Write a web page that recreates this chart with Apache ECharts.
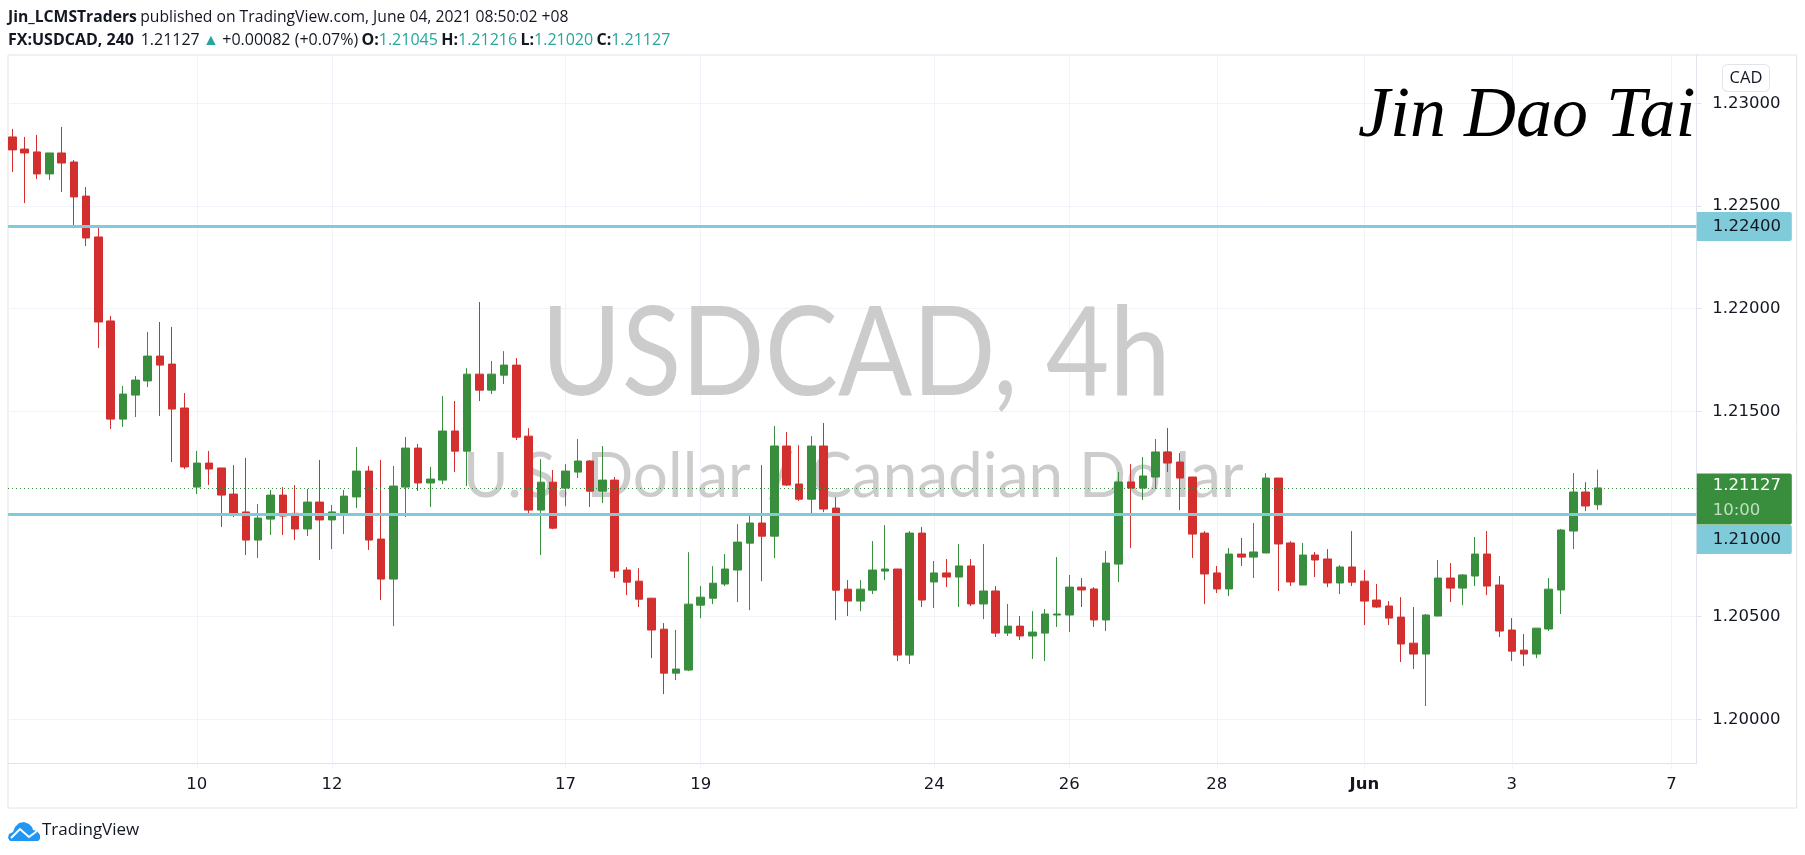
<!DOCTYPE html>
<html>
<head>
<meta charset="utf-8">
<style>html,body{margin:0;padding:0;background:#fff}#c{width:1805px;height:855px}</style>
<script src="https://cdn.jsdelivr.net/npm/echarts@6/dist/echarts.min.js"></script>
</head>
<body>
<div id="c"></div>
<script>
const opens = [1.22836,1.22777,1.22763,1.22656,1.22758,1.22714,1.22548,1.22349,1.21940,1.21462,
1.21579,1.21648,1.21769,1.21730,1.21516,1.21131,1.21248,1.21224,1.21097,1.21010,
1.20873,1.20975,1.21092,1.21003,1.20927,1.21058,1.20971,1.20995,1.21083,1.21209,
1.20878,1.20683,1.21131,1.21321,1.21151,1.21165,1.21404,1.21306,1.21681,1.21603,
1.21676,1.21725,1.21379,1.21019,1.21155,1.21126,1.21204,1.21258,1.21111,1.21165,
1.20727,1.20673,1.20590,1.20439,1.20225,1.20240,1.20556,1.20590,1.20659,1.20727,
1.20858,1.20956,1.20892,1.21331,1.21146,1.21072,1.21331,1.21029,1.20634,1.20576,
1.20629,1.20722,1.20732,1.20313,1.20907,1.20669,1.20713,1.20693,1.20747,1.20562,
1.20625,1.20420,1.20454,1.20406,1.20420,1.20508,1.20508,1.20644,1.20635,1.20484,
1.20756,1.21156,1.21126,1.21180,1.21302,1.21253,1.21180,1.20907,1.20713,1.20635,
1.20805,1.20790,1.20810,1.21175,1.20859,1.20654,1.20800,1.20781,1.20664,1.20742,
1.20673,1.20581,1.20552,1.20498,1.20371,1.20318,1.20503,1.20688,1.20639,1.20698,
1.20805,1.20654,1.20435,1.20337,1.20318,1.20440,1.20630,1.20917,1.21107,1.21045];
const closes = [1.22773,1.22758,1.22656,1.22758,1.22709,1.22544,1.22344,1.21935,1.21462,1.21584,
1.21652,1.21769,1.21725,1.21511,1.21229,1.21248,1.21219,1.21092,1.20998,1.20873,
1.20980,1.21092,1.20990,1.20927,1.21058,1.20971,1.21010,1.21087,1.21209,1.20873,
1.20683,1.21136,1.21321,1.21151,1.21170,1.21404,1.21306,1.21681,1.21603,1.21681,
1.21725,1.21374,1.21019,1.21155,1.20931,1.21209,1.21258,1.21111,1.21165,1.20722,
1.20668,1.20585,1.20435,1.20225,1.20245,1.20561,1.20595,1.20663,1.20732,1.20863,
1.20956,1.20892,1.21331,1.21141,1.21072,1.21331,1.21024,1.20629,1.20576,1.20634,
1.20727,1.20732,1.20313,1.20907,1.20581,1.20713,1.20693,1.20747,1.20562,1.20625,
1.20420,1.20454,1.20406,1.20425,1.20513,1.20513,1.20644,1.20630,1.20484,1.20761,
1.21156,1.21126,1.21185,1.21302,1.21248,1.21175,1.20902,1.20708,1.20635,1.20805,
1.20790,1.20815,1.21175,1.20854,1.20669,1.20800,1.20776,1.20664,1.20742,1.20668,
1.20576,1.20547,1.20493,1.20367,1.20318,1.20508,1.20688,1.20639,1.20703,1.20805,
1.20649,1.20430,1.20332,1.20318,1.20444,1.20634,1.20922,1.21107,1.21039,1.21127];
const lows = [1.22665,1.22514,1.22631,1.22626,1.22568,1.22402,1.22305,1.21808,1.21414,1.21424,
1.21472,1.21618,1.21477,1.21253,1.21219,1.21097,1.21141,1.20937,1.20985,1.20800,
1.20786,1.20898,1.20898,1.20873,1.20893,1.20776,1.20829,1.20902,1.21029,1.20825,
1.20581,1.20454,1.20985,1.21112,1.21034,1.21146,1.21204,1.21136,1.21550,1.21584,
1.21633,1.21360,1.21004,1.20800,1.20926,1.21038,1.21175,1.21034,1.21053,1.20688,
1.20605,1.20547,1.20298,1.20123,1.20191,1.20235,1.20493,1.20561,1.20649,1.20571,
1.20532,1.20673,1.20785,1.21136,1.21063,1.21003,1.21009,1.20483,1.20503,1.20527,
1.20610,1.20678,1.20284,1.20269,1.20547,1.20542,1.20644,1.20547,1.20552,1.20488,
1.20401,1.20406,1.20386,1.20294,1.20284,1.20450,1.20425,1.20547,1.20450,1.20430,
1.20669,1.20834,1.21068,1.21122,1.21204,1.21019,1.20786,1.20562,1.20615,1.20600,
1.20747,1.20688,1.20810,1.20625,1.20649,1.20654,1.20693,1.20644,1.20610,1.20649,
1.20459,1.20542,1.20459,1.20279,1.20245,1.20065,1.20503,1.20571,1.20556,1.20649,
1.20605,1.20401,1.20284,1.20259,1.20298,1.20430,1.20513,1.20829,1.21014,1.21020];
const highs = [1.22875,1.22836,1.22846,1.22758,1.22885,1.22724,1.22592,1.22393,1.21964,1.21623,
1.21672,1.21886,1.21935,1.21911,1.21589,1.21307,1.21307,1.21224,1.21238,1.21273,
1.21049,1.21117,1.21131,1.21141,1.21122,1.21263,1.21044,1.21117,1.21326,1.21234,
1.21263,1.21234,1.21375,1.21341,1.21229,1.21574,1.21550,1.21710,1.22032,1.21745,
1.21793,1.21759,1.21418,1.21267,1.21214,1.21243,1.21365,1.21262,1.21331,1.21180,
1.20741,1.20736,1.20590,1.20469,1.20435,1.20814,1.20649,1.20746,1.20805,1.20951,
1.20990,1.21238,1.21428,1.21399,1.21335,1.21379,1.21443,1.21082,1.20678,1.20678,
1.20868,1.20946,1.20732,1.20917,1.20937,1.20771,1.20781,1.20854,1.20781,1.20854,
1.20649,1.20562,1.20503,1.20527,1.20537,1.20790,1.20703,1.20688,1.20644,1.20820,
1.21204,1.21243,1.21277,1.21365,1.21419,1.21297,1.21180,1.20917,1.20747,1.20834,
1.20883,1.20956,1.21199,1.21175,1.20868,1.20859,1.20815,1.20829,1.20751,1.20917,
1.20727,1.20659,1.20576,1.20595,1.20547,1.20513,1.20776,1.20761,1.20707,1.20888,
1.20917,1.20698,1.20493,1.20415,1.20444,1.20688,1.20927,1.21199,1.21155,1.21216];
const tickIndex = [15,26,45,56,75,86,98,110,122,135];
const tickLabels = ['10','12','17','19','24','26','28','Jun','3','7'];
const priceTicks = [1.20,1.205,1.21,1.215,1.22,1.225,1.23];
const priceLabels = [1.20,1.205,1.215,1.22,1.225,1.23];
const supportLevel = 1.21;
const resistanceLevel = 1.224;
const lastPrice = 1.21127;

const UP='#388E3C', DOWN='#D32F2F', LEVEL='#7FCBDA', INK='#131722', GRID='#F0F3FA', FRAME='#E0E3EB', TEAL='#26A69A';
const AXISF='"DejaVu Sans"';
const X_MIN=-0.358, X_MAX=137.01;
const candles = opens.map((o,i)=>[i,o,closes[i],lows[i],highs[i]]);
const tagBase={position:'right',distance:0,align:'left',fontFamily:AXISF,fontSize:16.5,color:INK,backgroundColor:LEVEL,
  borderRadius:[0,2,2,0],width:79,height:29,lineHeight:29,padding:[0,0,0,16]};
const HF='"Open Sans"';
const chart=echarts.init(document.getElementById('c'),null,{renderer:'canvas'});
chart.setOption({
 animation:false,backgroundColor:'#fff',
 grid:{left:8,right:108.7,top:55,bottom:91.7,containLabel:false},
 xAxis:{type:'value',min:X_MIN,max:X_MAX,
  axisLine:{show:true,onZero:false,lineStyle:{color:FRAME,width:1}},
  axisTick:{show:true,customValues:tickIndex,length:6,lineStyle:{color:GRID}},
  splitLine:{show:true,lineStyle:{color:GRID,width:1}},
  axisLabel:{show:true,customValues:tickIndex,margin:13,fontFamily:AXISF,fontSize:16.5,color:INK,
    formatter:v=>{const s=tickLabels[tickIndex.indexOf(Math.round(v))];return s==='Jun'?'{b|Jun}':s;},
    rich:{b:{fontFamily:AXISF,fontSize:16.5,fontWeight:'bold',color:INK}}}},
 yAxis:{type:'value',position:'right',min:1.19786,max:1.23235,
  axisLine:{show:true,onZero:false,lineStyle:{color:FRAME,width:1}},
  axisTick:{show:true,customValues:priceTicks,length:5,lineStyle:{color:FRAME}},
  splitLine:{show:true,lineStyle:{color:GRID,width:1}},
  axisLabel:{show:true,customValues:priceLabels,margin:16,fontFamily:AXISF,fontSize:16.5,color:INK,formatter:v=>v.toFixed(5)}},
 graphic:[
  {type:'rect',z:0,shape:{x:8,y:55,width:1788.7,height:753},style:{fill:'none',stroke:FRAME,lineWidth:1}},
  {type:'text',z:1,x:541,y:293,scaleX:0.885,style:{text:'USDCAD, 4h',font:'124px "Lato"',fill:'#CCCCCC'}},
  {type:'text',z:1,x:463,y:446,style:{text:'U.S. Dollar / Canadian Dollar',font:'62px "Lato"',fill:'#CCCCCC'}},
  {type:'text',z:3,x:1358,y:81,style:{text:'Jin Dao Tai',font:'italic 72px "Liberation Serif"',fill:'#000',shadowBlur:4,shadowColor:'rgba(0,0,0,.35)',shadowOffsetX:2,shadowOffsetY:3}},
  {type:'rect',z:4,shape:{x:1722.5,y:64.5,width:47,height:27,r:5},style:{fill:'#fff',stroke:FRAME,lineWidth:1}},
  {type:'text',z:5,x:1746,y:78,style:{text:'CAD',font:'16.5px "Open Sans"',fill:INK,align:'center',verticalAlign:'middle'}},
  {type:'text',z:5,x:8,y:10,style:{rich:{b:{fontFamily:HF,fontSize:15.7,fontWeight:'bold',fill:INK},n:{fontFamily:HF,fontSize:15.7,fill:INK}},text:'{b|Jin_LCMSTraders} {n|published on TradingView.com, June 04, 2021 08:50:02 +08}'}},
  {type:'text',z:5,x:8,y:32.5,style:{rich:{b:{fontFamily:HF,fontSize:16,fontWeight:'bold',fill:INK},n:{fontFamily:HF,fontSize:16,fill:INK},t:{fontFamily:HF,fontSize:16,fill:TEAL}},
    text:'{b|FX:USDCAD, 240}  {n|1.21127} {t|▲} {n|+0.00082 (+0.07%)} {b|O:}{t|1.21045} {b|H:}{t|1.21216} {b|L:}{t|1.21020} {b|C:}{t|1.21127}'}},
  {type:'polygon',z:5,shape:{points:[[10,841],[8,838],[9,834],[13,832],[15,827],[19,823],[24,822],[29,824],[32,827],[33,830],[37,831],[40,835],[40,839],[38,841]]},style:{fill:'#2196F3'}},
  {type:'polyline',z:6,shape:{points:[[11,838],[20,829],[29,837],[37,831]]},style:{fill:'none',stroke:'#fff',lineWidth:2}},
  {type:'text',z:5,x:42,y:822,style:{text:'TradingView',font:'17px "Open Sans"',fill:INK}}
 ],
 series:[{
  type:'candlestick',barWidth:8,clip:false,z:2,
  itemStyle:{color:UP,color0:DOWN,borderColor:UP,borderColor0:DOWN,borderWidth:1},
  data:candles,
  markLine:{silent:true,symbol:'none',z:3,animation:false,precision:5,label:{show:false},
   data:[
    {yAxis:resistanceLevel,lineStyle:{color:LEVEL,width:3,type:'solid'}},
    {yAxis:supportLevel,lineStyle:{color:LEVEL,width:3,type:'solid'}},
    {yAxis:lastPrice,lineStyle:{color:UP,width:1,type:[1,3]}}
   ]},
  markPoint:{silent:true,symbol:'rect',symbolSize:1,animation:false,precision:5,itemStyle:{color:'rgba(0,0,0,0)'},
   data:[
    {coord:[X_MAX,resistanceLevel],label:{...tagBase,formatter:'1.22400'}},
    {coord:[X_MAX,supportLevel],label:{...tagBase,offset:[0,25.5],formatter:'1.21000'}},
    {coord:[X_MAX,lastPrice],label:{...tagBase,offset:[0,11],backgroundColor:UP,height:51,lineHeight:25,color:'#fff',
      formatter:'{a|1.21127}\n{b|10:00}',
      rich:{a:{fontFamily:AXISF,fontSize:16.5,color:'#fff',height:25,lineHeight:25},b:{fontFamily:AXISF,fontSize:16.5,color:'rgba(255,255,255,.7)',height:25,lineHeight:25}}}}
   ]}
 }]
});
</script>
</body>
</html>
